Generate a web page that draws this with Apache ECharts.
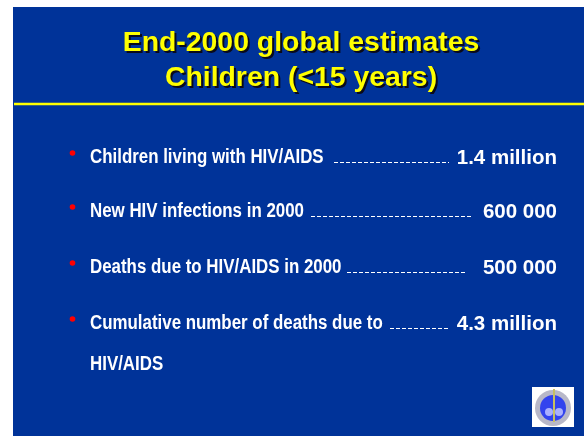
<!DOCTYPE html>
<html>
<head>
<meta charset="utf-8">
<script src="https://cdn.jsdelivr.net/npm/echarts@6/dist/echarts.min.js"></script>
<style>
  html, body { margin: 0; padding: 0; background: #fff; }
  #slide { width: 584px; height: 436px; }
</style>
</head>
<body>
<div id="slide"></div>
<script>
const titleLines = ['End-2000 global estimates', 'Children (<15 years)'];
const rowLabels = [
  'Children living with HIV/AIDS',
  'New HIV infections in 2000',
  'Deaths due to HIV/AIDS in 2000',
  'Cumulative number of deaths due to'
];
const rowLabelsCont = ['', '', '', 'HIV/AIDS'];
const rowValues = ['1.4 million', '600 000', '500 000', '4.3 million'];

// layout of the rows (pixels)
const rowY = [158, 212, 268, 324];
const dashFrom = [334, 311, 347, 390];
const dashTo = [449, 473, 467, 449];

const blue = '#003399';
const titleFont = 'bold 28.4px "Liberation Sans", Arial, sans-serif';
const labelFont = 'bold 19.5px "Liberation Sans", Arial, sans-serif';
const valueFont = 'bold 20.5px "Liberation Sans", Arial, sans-serif';

const elements = [];

elements.push({
  type: 'rect',
  shape: { x: 13, y: 7, width: 571, height: 429 },
  style: { fill: blue }
});

titleLines.forEach((t, i) => {
  const y = 43.5 + i * 34.5;
  // hard drop shadow
  elements.push({
    type: 'text',
    x: 303, y: y + 2,
    style: { text: t, fill: '#0a0a1a', font: titleFont, align: 'center', verticalAlign: 'middle' }
  });
  elements.push({
    type: 'text',
    x: 301, y: y,
    style: { text: t, fill: '#ffff00', font: titleFont, align: 'center', verticalAlign: 'middle' }
  });
});

elements.push({
  type: 'line',
  shape: { x1: 14, y1: 104, x2: 584, y2: 104 },
  style: { stroke: '#ffff00', lineWidth: 2.5 }
});

rowLabels.forEach((label, i) => {
  const y = rowY[i];
  elements.push({
    type: 'circle',
    shape: { cx: 72.5, cy: y - 5, r: 2.8 },
    style: { fill: '#ff0000' }
  });
  // narrow face: Arial bold squeezed horizontally
  elements.push({
    type: 'text',
    x: 90, y: y,
    scaleX: 0.866,
    style: { text: label, fill: '#ffffff', font: labelFont, verticalAlign: 'middle' }
  });
  if (rowLabelsCont[i]) {
    elements.push({
      type: 'text',
      x: 90, y: y + 41,
      scaleX: 0.866,
      style: { text: rowLabelsCont[i], fill: '#ffffff', font: labelFont, verticalAlign: 'middle' }
    });
  }
  elements.push({
    type: 'line',
    shape: { x1: dashFrom[i], y1: y + 4.5, x2: dashTo[i], y2: y + 4.5 },
    style: { stroke: '#ffffff', lineWidth: 1, lineDash: [4, 2] }
  });
  elements.push({
    type: 'text',
    x: 557, y: y,
    style: { text: rowValues[i], fill: '#ffffff', font: valueFont, align: 'right', verticalAlign: 'middle' }
  });
});

// small emblem bottom right
elements.push({
  type: 'rect',
  shape: { x: 532, y: 387, width: 42, height: 40 },
  style: { fill: '#ffffff' }
});
elements.push({
  type: 'circle',
  shape: { cx: 553, cy: 408, r: 18 },
  style: { fill: '#b8b8c8' }
});
elements.push({
  type: 'circle',
  shape: { cx: 553, cy: 408, r: 13 },
  style: { fill: '#3344ee' }
});
elements.push({
  type: 'line',
  shape: { x1: 554, y1: 389, x2: 554, y2: 422 },
  style: { stroke: '#c8c060', lineWidth: 2 }
});
elements.push({
  type: 'circle',
  shape: { cx: 549, cy: 412, r: 4 },
  style: { fill: '#aab0ff' }
});
elements.push({
  type: 'circle',
  shape: { cx: 559, cy: 412, r: 4 },
  style: { fill: '#aab0ff' }
});

const chart = echarts.init(document.getElementById('slide'), null, { renderer: 'canvas' });
chart.setOption({
  backgroundColor: '#ffffff',
  animation: false,
  graphic: { elements: elements }
});
</script>
</body>
</html>
